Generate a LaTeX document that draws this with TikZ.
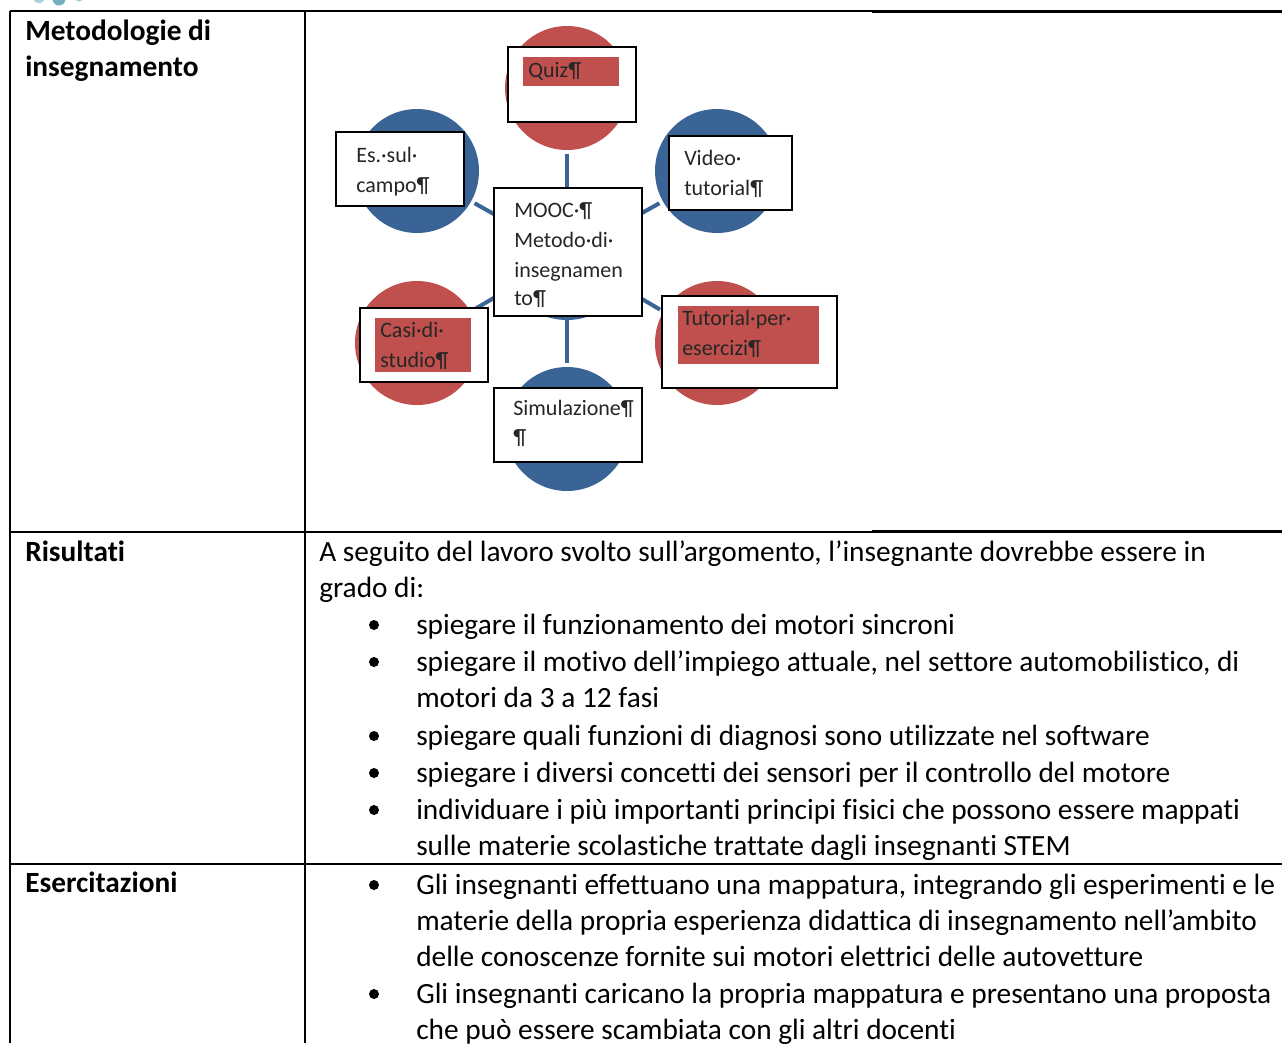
\documentclass[tikz,border=0pt]{standalone}
\usepackage{fontspec}
\setmainfont{Carlito}[Ligatures={NoCommon}]
\usetikzlibrary{fit}
\definecolor{ringblue}{HTML}{3A6496}
\definecolor{ringred}{HTML}{C0504D}
\definecolor{logoteal}{HTML}{74AEBF}
\definecolor{logolight}{HTML}{A9CFD9}
\begin{document}
\begin{tikzpicture}[x=0.75pt,y=-0.75pt,
  rule/.style={line width=1.5pt,black},
  heavyrule/.style={line width=2.25pt,black},
  lbl/.style={anchor=base west,inner sep=0pt,font=\fontsize{22pt}{26pt}\selectfont\bfseries},
  body/.style={anchor=base west,inner sep=0pt,font=\fontsize{22pt}{26pt}\selectfont},
  dtext/.style={anchor=base west,inner sep=0pt,text=black!85,font=\fontsize{16.5pt}{20pt}\selectfont},
  bulletdot/.style={circle,fill=black,inner sep=0pt,minimum size=7.5pt},
  ringcirc/.style={circle,inner sep=0pt,outer sep=0pt,minimum size=93pt},
  hubcirc/.style={circle,inner sep=0pt,outer sep=0pt,minimum size=97.5pt,fill=ringblue},
  spoke/.style={line width=3pt,ringblue,shorten >=3pt},
  box/.style={draw=black,fill=white,line width=1.5pt,inner sep=0pt,outer sep=0pt},
  hl/.style={fill=ringred,inner sep=0pt,outer sep=0pt}]
\useasboundingbox (0,0) rectangle (1282,1043);

% logo remnants at the top edge
\fill[logolight] (39,-3) circle (6);
\fill[logoteal] (59,-1) circle (6.5);
\fill[logolight!80!logoteal] (79,-4) circle (5.5);

% table rules
\draw[rule] (10,11) -- (872,11);
\draw[heavyrule] (872,11) -- (1282,11);
\draw[rule] (10,11) -- (10,1043);
\draw[rule] (305,11) -- (305,1043);
\draw[rule] (10,531.5) -- (872,531.5);
\draw[heavyrule] (872,531.5) -- (1282,531.5);
\draw[rule] (10,863.5) -- (1282,863.5);

% row labels
\node[lbl] (l1a) at (25,40) {Metodologie di};
\node[lbl] (l1b) at (25,76) {insegnamento};
\node[lbl] (l2) at (25,561) {Risultati};
\node[lbl] (l3) at (25,892) {Esercitazioni};

% radial diagram: hub and outer circles
\node[hubcirc] (hub) at (567,255) {};
\node[ringcirc,fill=ringred] (cquiz) at (567,88) {};
\node[ringcirc,fill=ringblue] (ces) at (417,171) {};
\node[ringcirc,fill=ringblue] (cvid) at (717,171) {};
\node[ringcirc,fill=ringred] (ccasi) at (417,343) {};
\node[ringcirc,fill=ringred] (ctut) at (717,343) {};
\node[ringcirc,fill=ringblue] (csim) at (567,429) {};

\foreach \c in {cquiz,ces,cvid,ccasi,ctut,csim}
  \draw[spoke] (hub) -- (\c);

% text boxes
\node[box,fit={(508,47)(636,122)}] (bquiz) {};
\node[box,fit={(336,132)(464,206)}] (bes) {};
\node[box,fit={(669,136)(792,210)}] (bvid) {};
\node[box,fit={(494,188)(642,316)}] (bmooc) {};
\node[box,fit={(360,308)(488,382)}] (bcasi) {};
\node[box,fit={(662,296)(837,388)}] (btut) {};
\node[box,fit={(494,388)(642,462)}] (bsim) {};

% highlighted text backgrounds
\node[hl,fit={(523,57)(619,86)}] (hquiz) {};
\node[hl,fit={(375,318)(471,372)}] (hcasi) {};
\node[hl,fit={(678,306)(819,364)}] (htut) {};

% box texts
\node[dtext] (tquiz) at (528,77) {Quiz¶};
\node[dtext] (tes1) at (356,162) {Es.·sul·};
\node[dtext] (tes2) at (356,192) {campo¶};
\node[dtext] (tvid1) at (684,165) {Video·};
\node[dtext] (tvid2) at (684,195) {tutorial¶};
\node[dtext] (tm1) at (514,217) {MOOC·¶};
\node[dtext] (tm2) at (514,247) {Metodo·di·};
\node[dtext] (tm3) at (514,277) {insegnamen};
\node[dtext] (tm4) at (514,305) {to¶};
\node[dtext] (tc1) at (380,337) {Casi·di·};
\node[dtext] (tc2) at (380,367) {studio¶};
\node[dtext] (tt1) at (682,325) {Tutorial·per·};
\node[dtext] (tt2) at (682,355) {esercizi¶};
\node[dtext] (ts1) at (513,415) {Simulazione¶};
\node[dtext] (ts2) at (513,444) {¶};

% Risultati
\node[body] (r0a) at (319,561) {A seguito del lavoro svolto sull’argomento, l’insegnante dovrebbe essere in};
\node[body] (r0b) at (319,597) {grado di:};
\node[bulletdot] (rb1) at (374,625) {};
\node[body] (r1) at (416,634) {spiegare il funzionamento dei motori sincroni};
\node[bulletdot] (rb2) at (374,662) {};
\node[body] (r2a) at (416,671) {spiegare il motivo dell’impiego attuale, nel settore automobilistico, di};
\node[body] (r2b) at (416,707) {motori da 3 a 12 fasi};
\node[bulletdot] (rb3) at (374,736) {};
\node[body] (r3) at (416,745) {spiegare quali funzioni di diagnosi sono utilizzate nel software};
\node[bulletdot] (rb4) at (374,773) {};
\node[body] (r4) at (416,782) {spiegare i diversi concetti dei sensori per il controllo del motore};
\node[bulletdot] (rb5) at (374,810) {};
\node[body] (r5a) at (416,819) {individuare i più importanti principi fisici che possono essere mappati};
\node[body] (r5b) at (416,855) {sulle materie scolastiche trattate dagli insegnanti STEM};

% Esercitazioni
\node[bulletdot] (eb1) at (374,885) {};
\node[body] (e1a) at (416,894) {Gli insegnanti effettuano una mappatura, integrando gli esperimenti e le};
\node[body] (e1b) at (416,930) {materie della propria esperienza didattica di insegnamento nell’ambito};
\node[body] (e1c) at (416,966) {delle conoscenze fornite sui motori elettrici delle autovetture};
\node[bulletdot] (eb2) at (374,994) {};
\node[body] (e2a) at (416,1003) {Gli insegnanti caricano la propria mappatura e presentano una proposta};
\node[body] (e2b) at (416,1039) {che può essere scambiata con gli altri docenti};
\end{tikzpicture}
\end{document}
